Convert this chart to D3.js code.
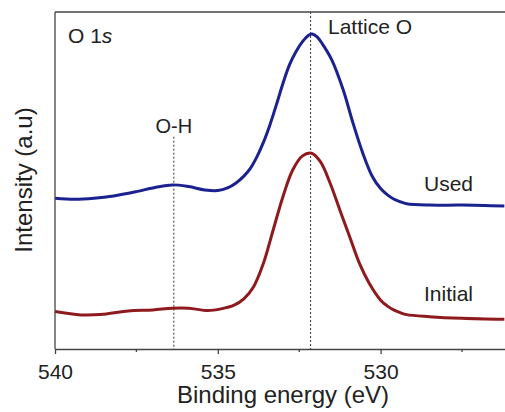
<!DOCTYPE html>
<html>
<head>
<meta charset="utf-8">
<script src="https://cdn.jsdelivr.net/npm/d3@7"></script>
<style>
  html, body { margin: 0; padding: 0; background: #fff; }
  svg { display: block; }
  text { font-family: "Liberation Sans", Arial, sans-serif; fill: #222; }
</style>
</head>
<body>
<svg id="chart" width="505" height="412"></svg>
<script>
// ---- data ----
const usedEnergy = [540, 539.4, 538.8, 538.2, 537.5, 536.9, 536.4, 535.9, 535.4, 535.0, 534.7, 534.45, 534.2, 534.0, 533.8, 533.6, 533.4, 533.2, 533.0, 532.8, 532.6, 532.4, 532.2, 532.1, 531.95, 531.8, 531.5, 531.15, 530.85, 530.55, 530.25, 530.0, 529.8, 529.6, 529.4, 529.2, 528.5, 527.5, 526.2];
const usedIntensity = [44.7, 44.4, 44.7, 45.4, 46.7, 48.0, 48.7, 48.2, 47.2, 47.0, 47.8, 49.2, 51.3, 53.6, 57.0, 61.3, 66.5, 72.5, 78.8, 84.3, 88.2, 91.2, 93.2, 93.5, 92.6, 90.7, 85.8, 76.9, 67.1, 58.2, 51.1, 47.6, 45.8, 44.5, 43.7, 43.1, 42.7, 42.7, 42.4];

const initialEnergy = [540, 539.2, 538.5, 537.75, 537.0, 536.4, 535.9, 535.3, 534.9, 534.5, 534.2, 533.9, 533.6, 533.3, 533.0, 532.7, 532.4, 532.12, 531.85, 531.55, 531.25, 530.95, 530.65, 530.35, 530.0, 529.8, 529.6, 529.4, 529.2, 528.5, 527.5, 526.2];
const initialIntensity = [11.1, 10.1, 10.3, 11.3, 11.6, 12.1, 12.1, 11.4, 11.9, 13.0, 14.9, 18.5, 25.4, 35.3, 45.2, 53.1, 57.3, 58.1, 55.6, 49.2, 41.2, 33.3, 25.4, 19.5, 14.5, 12.8, 11.6, 10.8, 10.2, 9.6, 9.1, 8.8];

const majorTicks = [540, 535, 530];
const minorTicks = [537.5, 532.5, 527.5];
const markerEnergy = [536.35, 532.15];   // O-H, Lattice O
const markerTop = [63, 100];             // intensity where the dotted guide starts

// ---- layout ----
const svg = d3.select("#chart");
const mLeft = 55, mRight = 505, mTop = 12, mBottom = 349;

const x = d3.scaleLinear().domain([540, 526.18]).range([mLeft, mRight]);
const y = d3.scaleLinear().domain([0, 100]).range([mBottom, mTop]);

// dotted guides
svg.selectAll("line.guide").data(markerEnergy).enter().append("line")
  .attr("class", "guide")
  .attr("x1", d => x(d)).attr("x2", d => x(d))
  .attr("y1", (d, i) => y(markerTop[i])).attr("y2", mBottom)
  .attr("stroke", "#333").attr("stroke-width", 1).attr("stroke-dasharray", "2,2");

// curves
const line = d3.line().x(d => x(d[0])).y(d => y(d[1])).curve(d3.curveCatmullRom.alpha(0.5));
const used = usedEnergy.map((e, i) => [e, usedIntensity[i]]);
const initial = initialEnergy.map((e, i) => [e, initialIntensity[i]]);

svg.append("path").datum(initial).attr("d", line)
  .attr("fill", "none").attr("stroke", "#8e1a1e").attr("stroke-width", 3).attr("stroke-linejoin", "round");
svg.append("path").datum(used).attr("d", line)
  .attr("fill", "none").attr("stroke", "#1b2290").attr("stroke-width", 3).attr("stroke-linejoin", "round");

// frame
svg.append("line").attr("x1", mLeft).attr("x2", mRight).attr("y1", mTop).attr("y2", mTop)
  .attr("stroke", "#444").attr("stroke-width", 1.3);
svg.append("line").attr("x1", mLeft).attr("x2", mLeft).attr("y1", mTop).attr("y2", mBottom)
  .attr("stroke", "#444").attr("stroke-width", 1.3);

// x axis
const gx = svg.append("g").attr("transform", `translate(0,${mBottom})`);
gx.call(d3.axisBottom(x).tickValues(majorTicks).tickSize(5).tickSizeOuter(0).tickFormat(d3.format("d")));
gx.select(".domain").attr("stroke", "#444").attr("stroke-width", 1.3);
gx.selectAll(".tick line").attr("stroke", "#444").attr("stroke-width", 1.3);
gx.selectAll(".tick text").attr("font-size", 21).attr("dy", 0).attr("y", 30)
  .attr("font-family", "Liberation Sans, Arial, sans-serif").attr("fill", "#222");
const gm = svg.append("g").attr("transform", `translate(0,${mBottom})`);
gm.selectAll("line").data(minorTicks).enter().append("line")
  .attr("x1", d => x(d)).attr("x2", d => x(d)).attr("y1", 0).attr("y2", 3)
  .attr("stroke", "#444").attr("stroke-width", 1.3);

// titles
svg.append("text").attr("x", 283).attr("y", 403).attr("text-anchor", "middle")
  .attr("font-size", 24).text("Binding energy (eV)");
svg.append("text").attr("transform", "translate(32,180) rotate(-90)").attr("text-anchor", "middle")
  .attr("font-size", 24).text("Intensity (a.u)");

// annotations
const t1 = svg.append("text").attr("x", 68).attr("y", 43).attr("font-size", 21);
t1.append("tspan").text("O 1");
t1.append("tspan").attr("font-style", "italic").text("s");
svg.append("text").attr("x", x(markerEnergy[0])).attr("y", 133).attr("text-anchor", "middle")
  .attr("font-size", 20).text("O-H");
svg.append("text").attr("x", 328).attr("y", 34).attr("font-size", 21).text("Lattice O");
svg.append("text").attr("x", 424).attr("y", 191).attr("font-size", 21).text("Used");
svg.append("text").attr("x", 424).attr("y", 301).attr("font-size", 21).text("Initial");
</script>
</body>
</html>
